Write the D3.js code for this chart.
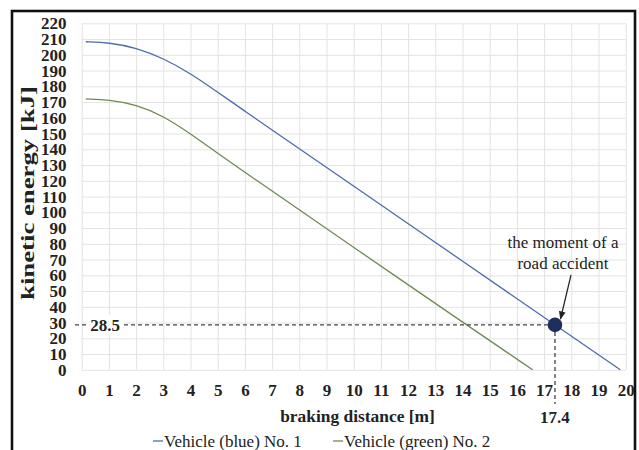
<!DOCTYPE html>
<html><head><meta charset="utf-8">
<script src="https://cdn.jsdelivr.net/npm/d3@7"></script>
<style>
html,body{margin:0;padding:0;background:#fff;}
svg{display:block;}
text{font-family:"Liberation Serif","Times New Roman",serif;fill:#222;}
</style></head>
<body>
<svg id="chart" width="639" height="450"></svg>
<script>
// ---- data ----
const xTicks = d3.range(0, 21, 1);
const yTicks = d3.range(0, 221, 10);
const blueX = [0.15, 1, 2, 3, 4, 5, 6, 7, 10, 14, 17.4, 19.8];
const blueY = [208.3, 207.8, 204.5, 197.8, 188.2, 176.3, 164.2, 152.3, 116.6, 69.0, 28.5, 0];
const greenX = [0.15, 1, 2, 3, 4, 5, 6, 7, 10, 14, 16.58];
const greenY = [172.0, 171.4, 168.4, 161.2, 149.9, 137.4, 125.4, 113.5, 77.7, 30.3, 0];
const seriesNames = ["Vehicle (blue) No. 1", "Vehicle (green) No. 2"];
const accidentX = 17.4, accidentY = 28.5;
const xTitle = "braking distance [m]";
const yTitle = "kinetic energy [kJ]";
const noteLines = ["the moment of a", "road accident"];

const svg = d3.select("#chart");
const L = 81.7, R = 625.7, T = 23.3, B = 369.8;
const x = d3.scaleLinear().domain([0, 20]).range([L, R]);
const y = d3.scaleLinear().domain([0, 220]).range([B, T]);
const blueC = "#4d6cab", greenC = "#6e8b52";

// frame
svg.append("rect").attr("x", 12).attr("y", 11).attr("width", 623).attr("height", 460)
  .attr("fill", "none").attr("stroke", "#111").attr("stroke-width", 2.6);

// grid
svg.append("g").attr("transform", `translate(0,${B})`)
  .call(d3.axisBottom(x).tickValues(xTicks).tickSize(-(B - T)).tickFormat(""))
  .call(g => g.select(".domain").remove())
  .call(g => g.selectAll("line").attr("stroke", "#e3e3e3").attr("stroke-width", 1));
svg.append("g").attr("transform", `translate(${L},0)`)
  .call(d3.axisLeft(y).tickValues(yTicks).tickSize(-(R - L)).tickFormat(""))
  .call(g => g.select(".domain").remove())
  .call(g => g.selectAll("line").attr("stroke", "#e3e3e3").attr("stroke-width", 1));

// tick labels
svg.append("g").attr("transform", `translate(${L},0)`)
  .call(d3.axisLeft(y).tickValues(yTicks).tickSize(0).tickPadding(15.2))
  .call(g => g.select(".domain").remove())
  .call(g => g.selectAll("text").attr("font-size", 17).attr("font-weight", "bold")
    .attr("font-family", "Liberation Serif").attr("fill", "#222"));
svg.append("g").attr("transform", `translate(0,${B})`)
  .call(d3.axisBottom(x).tickValues(xTicks).tickSize(0).tickPadding(14))
  .call(g => g.select(".domain").remove())
  .call(g => g.selectAll("text").attr("font-size", 17).attr("font-weight", "bold")
    .attr("font-family", "Liberation Serif").attr("fill", "#222"));

// lines
const line = d3.line().curve(d3.curveBasis);
svg.append("path").attr("d", line(blueX.map((v, i) => [x(v), y(blueY[i])])))
  .attr("fill", "none").attr("stroke", blueC).attr("stroke-width", 1.3);
svg.append("path").attr("d", line(greenX.map((v, i) => [x(v), y(greenY[i])])))
  .attr("fill", "none").attr("stroke", greenC).attr("stroke-width", 1.3);

// dashed guides
const px = x(accidentX), py = y(accidentY);
svg.append("line").attr("x1", 75).attr("x2", px).attr("y1", py).attr("y2", py)
  .attr("stroke", "#444").attr("stroke-width", 1.3).attr("stroke-dasharray", "4,3");
svg.append("line").attr("x1", px).attr("x2", px).attr("y1", py).attr("y2", 404)
  .attr("stroke", "#444").attr("stroke-width", 1.3).attr("stroke-dasharray", "4,3");
svg.append("rect").attr("x", 86).attr("y", py - 10).attr("width", 38).attr("height", 20).attr("fill", "#fff");
svg.append("text").attr("x", 105).attr("y", py + 6).attr("text-anchor", "middle")
  .attr("font-size", 17).attr("font-weight", "bold").text(accidentY.toFixed(1));
svg.append("text").attr("x", px).attr("y", 422.5).attr("text-anchor", "middle")
  .attr("font-size", 17).attr("font-weight", "bold").text(accidentX.toFixed(1));

// point
svg.append("circle").attr("cx", px).attr("cy", py).attr("r", 7.3).attr("fill", "#1e2f5c");

// annotation
noteLines.forEach((t, i) => svg.append("text").attr("x", 563).attr("y", 248 + i * 21)
  .attr("text-anchor", "middle").attr("font-size", 17).text(t));
svg.append("defs").append("marker").attr("id", "ah").attr("viewBox", "0 0 10 10")
  .attr("refX", 9).attr("refY", 5).attr("markerWidth", 7).attr("markerHeight", 7)
  .attr("orient", "auto").append("path").attr("d", "M0,1 L10,5 L0,9 Z").attr("fill", "#222");
svg.append("line").attr("x1", 571).attr("y1", 275).attr("x2", 560.5).attr("y2", 319)
  .attr("stroke", "#222").attr("stroke-width", 1.2).attr("marker-end", "url(#ah)");

// titles
svg.append("text").attr("x", 357.5).attr("y", 422).attr("text-anchor", "middle")
  .attr("font-size", 17.4).attr("font-weight", "bold").text(xTitle);
svg.append("text").attr("transform", "translate(34,193) rotate(-90)").attr("text-anchor", "middle")
  .attr("font-size", 19).attr("font-weight", "bold")
  .attr("textLength", 214).attr("lengthAdjust", "spacingAndGlyphs").text(yTitle);

// legend
const legX = [153, 333], legC = [blueC, greenC];
seriesNames.forEach((n, i) => {
  svg.append("line").attr("x1", legX[i]).attr("x2", legX[i] + 10).attr("y1", 441).attr("y2", 441)
    .attr("stroke", legC[i]).attr("stroke-width", 1.3);
  svg.append("text").attr("x", legX[i] + 11).attr("y", 447).attr("font-size", 17).text(n);
});
</script>
</body></html>
